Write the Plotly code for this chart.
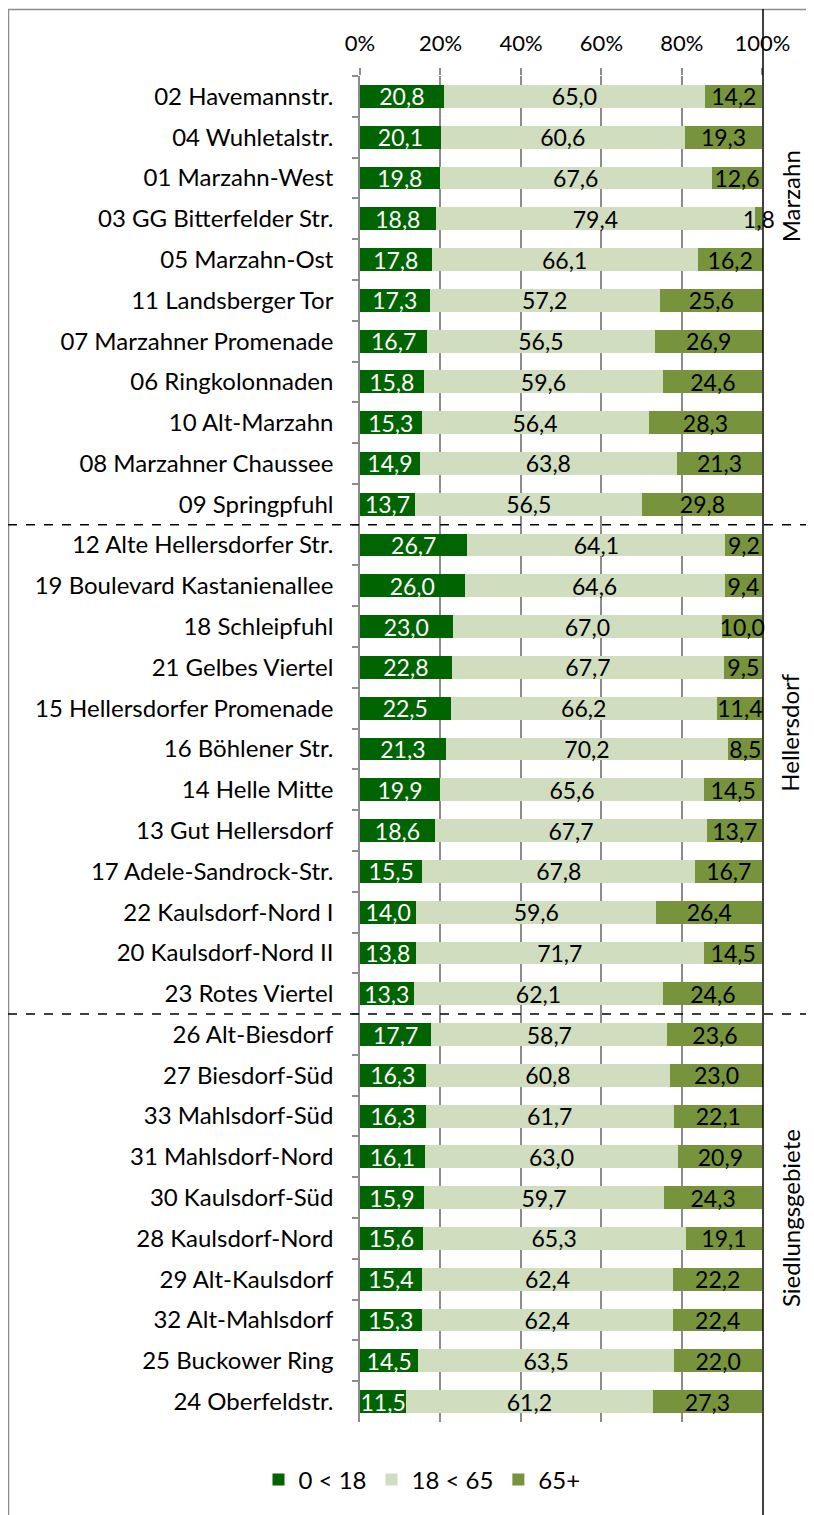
import plotly.graph_objects as go

districts = [
    "02 Havemannstr.", "04 Wuhletalstr.", "01 Marzahn-West", "03 GG Bitterfelder Str.",
    "05 Marzahn-Ost", "11 Landsberger Tor", "07 Marzahner Promenade", "06 Ringkolonnaden",
    "10 Alt-Marzahn", "08 Marzahner Chaussee", "09 Springpfuhl",
    "12 Alte Hellersdorfer Str.", "19 Boulevard Kastanienallee", "18 Schleipfuhl",
    "21 Gelbes Viertel", "15 Hellersdorfer Promenade", "16 Böhlener Str.", "14 Helle Mitte",
    "13 Gut Hellersdorf", "17 Adele-Sandrock-Str.", "22 Kaulsdorf-Nord I",
    "20 Kaulsdorf-Nord II", "23 Rotes Viertel",
    "26 Alt-Biesdorf", "27 Biesdorf-Süd", "33 Mahlsdorf-Süd", "31 Mahlsdorf-Nord",
    "30 Kaulsdorf-Süd", "28 Kaulsdorf-Nord", "29 Alt-Kaulsdorf", "32 Alt-Mahlsdorf",
    "25 Buckower Ring", "24 Oberfeldstr.",
]
age_0_18 = [20.8, 20.1, 19.8, 18.8, 17.8, 17.3, 16.7, 15.8, 15.3, 14.9, 13.7,
            26.7, 26.0, 23.0, 22.8, 22.5, 21.3, 19.9, 18.6, 15.5, 14.0, 13.8, 13.3,
            17.7, 16.3, 16.3, 16.1, 15.9, 15.6, 15.4, 15.3, 14.5, 11.5]
age_18_65 = [65.0, 60.6, 67.6, 79.4, 66.1, 57.2, 56.5, 59.6, 56.4, 63.8, 56.5,
             64.1, 64.6, 67.0, 67.7, 66.2, 70.2, 65.6, 67.7, 67.8, 59.6, 71.7, 62.1,
             58.7, 60.8, 61.7, 63.0, 59.7, 65.3, 62.4, 62.4, 63.5, 61.2]
age_65 = [14.2, 19.3, 12.6, 1.8, 16.2, 25.6, 26.9, 24.6, 28.3, 21.3, 29.8,
          9.2, 9.4, 10.0, 9.5, 11.4, 8.5, 14.5, 13.7, 16.7, 26.4, 14.5, 24.6,
          23.6, 23.0, 22.1, 20.9, 24.3, 19.1, 22.2, 22.4, 22.0, 27.3]
series_names = ["0 < 18", "18 < 65", "65+"]
series_colors = ["#006400", "#D0DDBF", "#77933C"]
text_colors = ["#FFFFFF", "#000000", "#000000"]
x_ticks = [0, 20, 40, 60, 80, 100]
x_tick_labels = ["0%", "20%", "40%", "60%", "80%", "100%"]
groups = ["Marzahn", "Hellersdorf", "Siedlungsgebiete"]
group_label_pos = [2.45, 15.6, 27.5]
group_breaks = [10.5, 22.5]

FONT = "Lato, 'Open Sans', sans-serif"
X_MAX = 100.15  # rounded shares may sum slightly above 100

fig = go.Figure()
for name, vals, col, tcol in zip(series_names, [age_0_18, age_18_65, age_65], series_colors, text_colors):
    fig.add_trace(go.Bar(
        y=districts, x=vals, orientation="h", name=name,
        marker=dict(color=col, line=dict(width=0)),
        text=[f"{v:.1f}".replace(".", ",") for v in vals],
        textposition="inside", insidetextanchor="middle", textangle=0,
        textfont=dict(color=tcol, size=23, family=FONT),
        cliponaxis=False, hoverinfo="skip",
    ))

# page has an 8px body margin: work in figure coordinates = page - 8
OFF = 8
W, H = 814 - OFF, 1515 - OFF
L, R, T, B = 360 - OFF, 763 - OFF, 76 - OFF, 1422 - OFF
def px(x):
    return (x - OFF - L) / (R - L)
def py(y):
    return (B - (y - OFF)) / (B - T)

shapes = []
shapes.append(dict(type="line", xref="paper", yref="paper", x0=px(8.5), x1=px(8.5), y0=py(9), y1=py(1515),
                   line=dict(color="#8C8C8C", width=1.5)))
shapes.append(dict(type="line", xref="paper", yref="paper", x0=px(8), x1=px(814), y0=py(9.5), y1=py(9.5),
                   line=dict(color="#8C8C8C", width=1.5)))
shapes.append(dict(type="line", xref="paper", yref="paper", x0=1.0, x1=1.0, y0=py(9), y1=py(1515),
                   line=dict(color="#000000", width=1.5)))
for gb in group_breaks:
    shapes.append(dict(type="line", xref="paper", yref="y", x0=px(8), x1=px(814), y0=gb, y1=gb,
                       line=dict(color="#000000", width=1.5, dash="dash")))

annotations = []
for g, pos in zip(groups, group_label_pos):
    annotations.append(dict(text=g, xref="paper", yref="y", x=px(790), y=pos, showarrow=False,
                            textangle=-90, font=dict(size=24, family=FONT, color="#000000"),
                            xanchor="center", yanchor="middle"))

fig.update_layout(
    width=W, height=H, barmode="stack", bargap=0.44,
    paper_bgcolor="white", plot_bgcolor="white",
    margin=dict(l=L, r=W - R, t=T, b=H - B, pad=0),
    font=dict(family=FONT, size=22, color="#000000"),
    uniformtext=dict(minsize=23, mode="show"),
    shapes=shapes, annotations=annotations,
    legend=dict(orientation="h", x=px(422), xanchor="center", y=py(1480), yanchor="middle",
                font=dict(size=24, family=FONT), itemwidth=30, traceorder="normal",
                bgcolor="rgba(0,0,0,0)"),
    xaxis=dict(side="top", range=[0, X_MAX], tickvals=x_ticks, ticktext=x_tick_labels,
               showgrid=True, gridcolor="#8C8C8C", gridwidth=1.5, zeroline=False,
               ticks="outside", ticklen=7, tickcolor="#8C8C8C", tickwidth=1.5,
               showline=False, ticklabelstandoff=8, tickfont=dict(size=22, family=FONT),
               fixedrange=True),
    yaxis=dict(autorange="reversed", type="category", showgrid=False, zeroline=False,
               showline=True, linecolor="#8C8C8C", linewidth=1.5,
               ticks="outside", tickson="boundaries", ticklen=6, tickcolor="#8C8C8C", tickwidth=1.5,
               ticklabelstandoff=20, tickfont=dict(size=24, family=FONT), fixedrange=True),
)

fig.write_html("out.html")
